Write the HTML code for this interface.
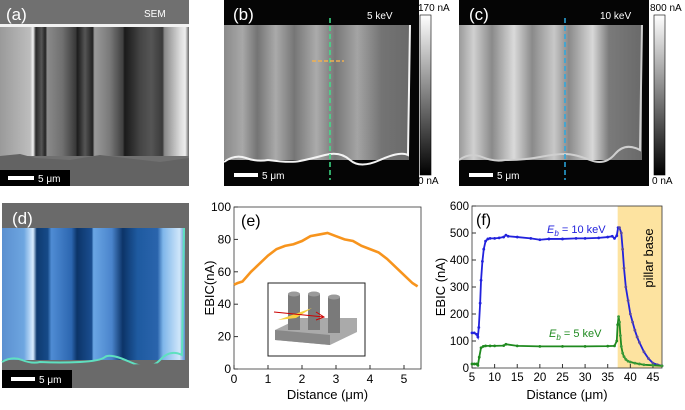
<!DOCTYPE html>
<html><head><meta charset="utf-8"><style>
body{margin:0;background:#fff;width:685px;height:405px;overflow:hidden}
svg{font-family:"Liberation Sans",sans-serif}
</style></head><body>
<svg width="685" height="405" viewBox="0 0 685 405">
<defs>
<linearGradient id="gA" x1="0" x2="1" y1="0" y2="0">
<stop offset="0" stop-color="#9a9a9a"/><stop offset="0.16" stop-color="#bdbdbd"/><stop offset="0.175" stop-color="#f4f4f4"/>
<stop offset="0.19" stop-color="#2a2a2a"/><stop offset="0.22" stop-color="#555"/><stop offset="0.24" stop-color="#222"/>
<stop offset="0.25" stop-color="#8a8a8a"/><stop offset="0.33" stop-color="#707070"/><stop offset="0.4" stop-color="#3a3a3a"/>
<stop offset="0.41" stop-color="#1c1c1c"/><stop offset="0.45" stop-color="#555"/><stop offset="0.49" stop-color="#222"/>
<stop offset="0.5" stop-color="#9a9a9a"/><stop offset="0.58" stop-color="#7a7a7a"/><stop offset="0.65" stop-color="#404040"/>
<stop offset="0.66" stop-color="#1a1a1a"/><stop offset="0.71" stop-color="#333"/><stop offset="0.74" stop-color="#444"/>
<stop offset="0.8" stop-color="#555"/><stop offset="0.86" stop-color="#3a3a3a"/><stop offset="0.87" stop-color="#888"/>
<stop offset="0.95" stop-color="#d8d8d8"/><stop offset="0.98" stop-color="#eee"/><stop offset="1" stop-color="#666"/>
</linearGradient>
<linearGradient id="gB" x1="0" x2="1">
<stop offset="0" stop-color="#8a8a8a"/><stop offset="0.1" stop-color="#a8a8a8"/><stop offset="0.18" stop-color="#747474"/>
<stop offset="0.28" stop-color="#aaa"/><stop offset="0.38" stop-color="#767676"/><stop offset="0.5" stop-color="#ababab"/>
<stop offset="0.6" stop-color="#777"/><stop offset="0.72" stop-color="#a4a4a4"/><stop offset="0.85" stop-color="#747474"/><stop offset="1" stop-color="#6a6a6a"/>
</linearGradient>
<linearGradient id="gC" x1="0" x2="1">
<stop offset="0" stop-color="#9a9a9a"/><stop offset="0.08" stop-color="#d0d0d0"/><stop offset="0.18" stop-color="#8a8a8a"/>
<stop offset="0.3" stop-color="#dadada"/><stop offset="0.4" stop-color="#8a8a8a"/><stop offset="0.52" stop-color="#c8c8c8"/>
<stop offset="0.6" stop-color="#8a8a8a"/><stop offset="0.73" stop-color="#d8d8d8"/><stop offset="0.82" stop-color="#7a7a7a"/><stop offset="1" stop-color="#6a6a6a"/>
</linearGradient>
<linearGradient id="gD" x1="0" x2="1">
<stop offset="0" stop-color="#5a8fd0"/><stop offset="0.12" stop-color="#6ea6e0"/><stop offset="0.17" stop-color="#d8ecff"/>
<stop offset="0.19" stop-color="#0e3a70"/><stop offset="0.25" stop-color="#164a88"/><stop offset="0.27" stop-color="#4f8cd4"/>
<stop offset="0.38" stop-color="#2c66b0"/><stop offset="0.41" stop-color="#0c3468"/><stop offset="0.49" stop-color="#1a4e90"/>
<stop offset="0.5" stop-color="#6aa6e4"/><stop offset="0.6" stop-color="#4a84cc"/><stop offset="0.66" stop-color="#0c3468"/>
<stop offset="0.74" stop-color="#1e5aa0"/><stop offset="0.85" stop-color="#2a64ac"/><stop offset="0.88" stop-color="#7fb6ea"/>
<stop offset="0.97" stop-color="#cfe6fa"/><stop offset="1" stop-color="#5a8fd0"/>
</linearGradient>
<linearGradient id="cb" x1="0" x2="0" y1="1" y2="0"><stop offset="0" stop-color="#000"/><stop offset="1" stop-color="#fff"/></linearGradient>
</defs>

<g>
<rect x="0" y="0" width="189" height="186" fill="#707070"/>
<rect x="0" y="26" width="189" height="130" fill="url(#gA)"/>
<rect x="0" y="24" width="189" height="3" fill="#f2f2f2"/>
<path d="M0 156 L20 154 L35 158 L70 160 L100 155 L125 158 L160 162 L189 158 L189 186 L0 186Z" fill="#636363"/>
<text x="6" y="20" font-size="17" fill="#fff">(a)</text>
<text x="144" y="17" font-size="10" fill="#fff">SEM</text>
<rect x="0" y="170" width="70" height="16" fill="#000"/>
<rect x="8" y="176" width="26" height="4" fill="#fff"/>
<text x="38" y="182" font-size="10" fill="#fff">5 μm</text>
</g>

<g>
<rect x="224" y="0" width="195" height="186" fill="#050505"/>
<rect x="224" y="25" width="185" height="135" fill="url(#gB)"/>
<path d="M224 162 Q235 154 246 158 T268 160 Q290 163 300 161 T325 155 T350 160 T380 160 T408 155 L410 25" fill="none" stroke="#f4f4f4" stroke-width="2"/>
<line x1="330" y1="18" x2="330" y2="180" stroke="#3fe08a" stroke-width="1.5" stroke-dasharray="5,3"/>
<line x1="312" y1="61" x2="344" y2="61" stroke="#f0b050" stroke-width="1.5" stroke-dasharray="4,2"/>
<text x="233" y="20" font-size="17" fill="#fff">(b)</text>
<text x="367" y="19" font-size="10" fill="#fff">5 keV</text>
<rect x="234" y="173" width="24" height="4" fill="#fff"/>
<text x="262" y="179" font-size="10" fill="#fff">5 μm</text>
<rect x="420" y="15" width="11" height="160" fill="url(#cb)" stroke="#000" stroke-width="0.6"/>
<text x="418" y="11" font-size="10">170 nA</text>
<text x="418" y="184" font-size="10">0 nA</text>
</g>

<g>
<rect x="459" y="0" width="190" height="186" fill="#050505"/>
<rect x="459" y="25" width="183" height="135" fill="url(#gC)"/>
<path d="M459 160 Q470 152 482 157 T505 160 Q525 160 540 157 T565 154 T590 160 T615 154 T640 150 L642 25" fill="none" stroke="#cfcfcf" stroke-width="2"/>
<line x1="565" y1="18" x2="565" y2="180" stroke="#2aa8e0" stroke-width="1.5" stroke-dasharray="5,3"/>
<text x="469" y="20" font-size="17" fill="#fff">(c)</text>
<text x="600" y="19" font-size="10" fill="#fff">10 keV</text>
<rect x="469" y="173" width="24" height="4" fill="#fff"/>
<text x="497" y="179" font-size="10" fill="#fff">5 μm</text>
<rect x="654" y="15" width="11" height="160" fill="url(#cb)" stroke="#000" stroke-width="0.6"/>
<text x="650" y="11" font-size="10">800 nA</text>
<text x="652" y="184" font-size="10">0 nA</text>
</g>

<g>
<rect x="2" y="203" width="187" height="185" fill="#6a6a6a"/>
<rect x="2" y="228" width="183" height="132" fill="url(#gD)"/>
<path d="M2 362 Q12 356 22 360 T40 362 Q60 363 80 362 T105 357 T130 362 T160 360 T182 355 L184 228" fill="none" stroke="#5fe0c0" stroke-width="2"/>
<path d="M2 365 L40 366 L80 368 L120 365 L189 362 L189 388 L2 388Z" fill="#6a6a6a"/>
<text x="12" y="224" font-size="17" fill="#fff">(d)</text>
<rect x="2" y="370" width="70" height="18" fill="#000"/>
<rect x="11" y="377" width="24" height="4" fill="#fff"/>
<text x="39" y="383" font-size="10" fill="#fff">5 μm</text>
</g>

<g id="chartE"></g>
<g id="chartF"></g>
</svg>
<script>
const eX=[0,0.1,0.25,0.5,0.75,1.0,1.25,1.5,1.75,2.0,2.25,2.5,2.75,3.0,3.25,3.5,3.75,4.0,4.25,4.5,4.75,5.0,5.25,5.4];
const eY=[52,53,54,60,65,70,74,76,77,79,82,83,84,82,80,79,76,74,72,68,63,58,53,51];
const eXTicks=[0,1,2,3,4,5];
const eYTicks=[0,20,40,60,80,100];

const f10X=[5,5.5,6,6.3,6.5,6.8,7,7.3,7.6,8,8.5,9,10,11,12,12.5,13,15,18,20,22,25,28,30,33,35,36,36.5,37,37.3,37.6,38,38.3,38.6,39,39.5,40,40.5,41,41.5,42,43,44,45,46,47];
const f10Y=[130,130,125,115,150,240,325,395,440,470,478,480,480,482,485,492,488,485,480,475,478,478,480,480,482,485,488,480,490,520,520,500,440,370,300,250,200,170,140,115,95,60,35,18,12,8];
const f5X=[5,5.5,6,6.3,6.6,7,7.5,8,9,10,12,12.5,15,20,25,30,35,36.5,37,37.2,37.4,37.6,37.8,38,38.3,38.6,39,39.5,40,41,42,43,45,47];
const f5Y=[15,15,15,10,40,75,80,82,82,82,83,88,82,80,80,80,81,82,100,160,190,170,120,80,55,42,32,25,22,18,15,12,10,8];
const fXTicks=[5,10,15,20,25,30,35,40,45];
const fYTicks=[0,100,200,300,400,500,600];

const NS="http://www.w3.org/2000/svg";
function mk(p,tag,attrs,text){const el=document.createElementNS(NS,tag);for(const k in attrs)el.setAttribute(k,attrs[k]);if(text!==undefined)el.textContent=text;p.appendChild(el);return el;}

(function(){
const g=document.getElementById('chartE');
const L=234,R=421,T=207,B=369;
const sx=v=>L+(v-0)/(5.5-0)*(R-L), sy=v=>B-(v/100)*(B-T);
mk(g,'rect',{x:L,y:T,width:R-L,height:B-T,fill:'none',stroke:'#333','stroke-width':0.8});
eXTicks.forEach(t=>{const l=mk(g,'line',{x1:sx(t),x2:sx(t),y1:B,y2:B-4,stroke:'#333'});
 const tx=mk(g,'text',{x:sx(t),y:B+14,'font-size':12,'text-anchor':'middle'},t);});
eYTicks.forEach(t=>{mk(g,'line',{x1:L,x2:L+4,y1:sy(t),y2:sy(t),stroke:'#333'});
 const tx=mk(g,'text',{x:L-3,y:sy(t)+4,'font-size':12,'text-anchor':'end'},t);});
const xt=mk(g,'text',{x:(L+R)/2,y:399,'font-size':13,'text-anchor':'middle'},'Distance (μm)');

const yt=mk(g,'text',{x:0,y:0,'font-size':13,'text-anchor':'middle',transform:`translate(214,${(T+B)/2}) rotate(-90)`},'EBIC(nA)');

const pl=mk(g,'polyline',{points:eX.map((x,i)=>sx(x)+','+sy(eY[i])).join(' '),fill:'none',stroke:'#f7941d','stroke-width':2.6});

const lab=mk(g,'text',{x:241,y:226,'font-size':16},'(e)');
const ins=mk(g,'g',{});
mk(ins,'rect',{x:268,y:283,width:97,height:73,fill:'#fff',stroke:'#222','stroke-width':1});
mk(ins,'polygon',{points:'275,330 300,318 357,318 357,332 330,345 275,340',fill:'#aaa'});
mk(ins,'polygon',{points:'275,330 330,335 330,345 275,340',fill:'#888'});
[[288,294],[308,294],[328,297]].forEach(([x,y])=>{mk(ins,'rect',{x:x,y:y,width:12,height:36,fill:'#7a7a7a'});mk(ins,'ellipse',{cx:x+6,cy:y,rx:6,ry:2.5,fill:'#9a9a9a'});});
mk(ins,'polygon',{points:'278,320 312,308 296,318',fill:'#f7d040'});
mk(ins,'line',{x1:274,y1:312,x2:324,y2:317,stroke:'#c00','stroke-width':1});
mk(ins,'polyline',{points:'316,312 324,317 316,320',fill:'none',stroke:'#c00','stroke-width':1});
})();

(function(){
const g=document.getElementById('chartF');
const L=472,R=662,T=206,B=368;
const sx=v=>L+(v-5)/(47-5)*(R-L), sy=v=>B-(v/600)*(B-T);
const sh=mk(g,'rect',{x:sx(37.2),y:T,width:R-sx(37.2),height:B-T,fill:'#fde3a0'});

mk(g,'rect',{x:L,y:T,width:R-L,height:B-T,fill:'none',stroke:'#333','stroke-width':0.8});
fXTicks.forEach(t=>{mk(g,'line',{x1:sx(t),x2:sx(t),y1:B,y2:B-4,stroke:'#333'});
 const tx=mk(g,'text',{x:sx(t),y:B+13,'font-size':11.5,'text-anchor':'middle'},t);});
fYTicks.forEach(t=>{mk(g,'line',{x1:L,x2:L+4,y1:sy(t),y2:sy(t),stroke:'#333'});
 const tx=mk(g,'text',{x:L-3,y:sy(t)+4,'font-size':11.5,'text-anchor':'end'},t);});
const xt=mk(g,'text',{x:(L+R)/2,y:399,'font-size':13,'text-anchor':'middle'},'Distance (μm)');

const yt=mk(g,'text',{x:0,y:0,'font-size':13,'text-anchor':'middle',transform:`translate(445,${(T+B)/2}) rotate(-90)`},'EBIC (nA)');

[[f10X,f10Y,'#2222dd','#5a4aa0','series-10kev'],[f5X,f5Y,'#1f8a1f','#3a9a3a','series-5kev']].forEach(([xs,ys,c,c2,nm])=>{
 const pl=mk(g,'polyline',{points:xs.map((x,i)=>sx(x)+','+sy(ys[i])).join(' '),fill:'none',stroke:c,'stroke-width':1.8});
 
 xs.forEach((x,i)=>{const d=mk(g,'circle',{cx:sx(x),cy:sy(ys[i]),r:1.4,fill:x>37.3?c2:c});});
});
const lab=mk(g,'text',{x:476,y:225,'font-size':16},'(f)');
const l1=mk(g,'text',{x:547,y:233,'font-size':11,fill:'#2222dd'});l1.innerHTML='<tspan font-style="italic">E</tspan><tspan font-style="italic" font-size="8" dy="3">b</tspan><tspan dy="-3"> = 10 keV</tspan>';

const l2=mk(g,'text',{x:549,y:337,'font-size':11,fill:'#1f8a1f'});l2.innerHTML='<tspan font-style="italic">E</tspan><tspan font-style="italic" font-size="8" dy="3">b</tspan><tspan dy="-3"> = 5 keV</tspan>';

const pb=mk(g,'text',{x:0,y:0,'font-size':13,'text-anchor':'middle',transform:'translate(653,258) rotate(-90)'},'pillar base');

})();
</script>
</body></html>
